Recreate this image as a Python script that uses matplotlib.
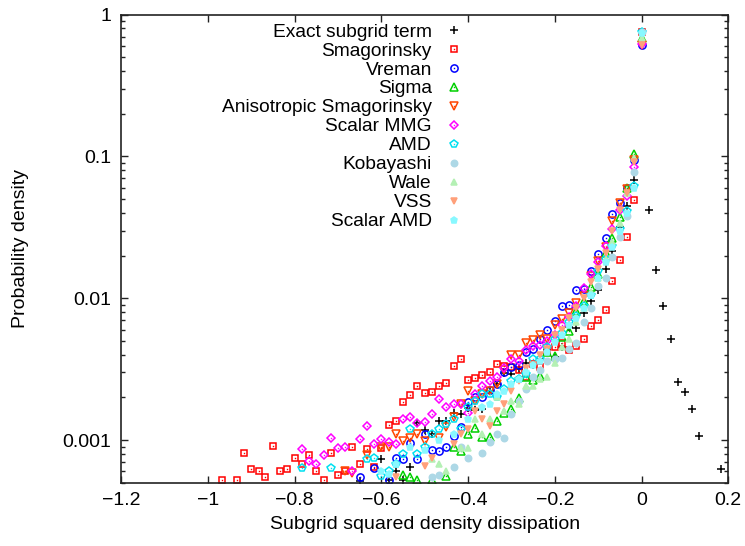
import matplotlib
matplotlib.use('Agg')
import matplotlib.pyplot as plt

plt.rcParams['font.family'] = ['Liberation Sans', 'DejaVu Sans']
plt.rcParams['font.size'] = 14

# PDF of the subgrid squared density dissipation, bin centres (x) and densities (y)
exact_x = [-0.65, -0.6, -0.583, -0.567, -0.55, -0.533, -0.517, -0.5, -0.483, -0.467, -0.45, -0.433,
           -0.417, -0.4, -0.383, -0.367, -0.35, -0.333, -0.317, -0.3, -0.283, -0.267, -0.25, -0.233,
           -0.217, -0.2, -0.183, -0.167, -0.15, -0.133, -0.117, -0.1, -0.083, -0.067, -0.05, -0.033,
           -0.017, 0.0, 0.017, 0.033, 0.05, 0.067, 0.083, 0.1, 0.117, 0.133, 0.183]
exact_y = [0.00051, 0.00073, 0.00052, 0.0006, 0.00052, 0.00065, 0.00131, 0.00118, 0.0011, 0.00136,
           0.00136, 0.00156, 0.00152, 0.00168, 0.00163, 0.00166, 0.0022, 0.0025, 0.00296, 0.0029,
           0.00316, 0.0035, 0.0034, 0.00374, 0.0043, 0.00388, 0.00452, 0.0063, 0.0062, 0.0079,
           0.0095, 0.0114, 0.0161, 0.0216, 0.032, 0.045, 0.068, 0.64, 0.042, 0.0159, 0.0088,
           0.0052, 0.00256, 0.00218, 0.00166, 0.00106, 0.00062]

smag_x = [-0.967, -0.933, -0.917, -0.9, -0.883, -0.867, -0.85, -0.833, -0.817, -0.8, -0.783, -0.767,
          -0.75, -0.733, -0.717, -0.7, -0.683, -0.667, -0.65, -0.633, -0.617, -0.6, -0.583, -0.567,
          -0.55, -0.533, -0.517, -0.5, -0.483, -0.467, -0.45, -0.433, -0.417, -0.4, -0.383, -0.367,
          -0.35, -0.333, -0.317, -0.3, -0.283, -0.267, -0.25, -0.233, -0.217, -0.2, -0.183, -0.167,
          -0.15, -0.133, -0.117, -0.1, -0.083, -0.067, -0.05, -0.033, -0.017, 0.0]
smag_y = [0.00052, 0.00052, 0.00081, 0.00062, 0.0006, 0.00055, 0.00091, 0.0006, 0.00062, 0.00075,
          0.00068, 0.00078, 0.0006, 0.00052, 0.00081, 0.00057, 0.0006, 0.00089, 0.00068, 0.00086,
          0.00065, 0.00088, 0.00127, 0.00136, 0.00185, 0.00207, 0.00242, 0.00215, 0.00219, 0.0024,
          0.00254, 0.00335, 0.00372, 0.00265, 0.00273, 0.00286, 0.003, 0.00346, 0.00333, 0.0033,
          0.0031, 0.0028, 0.00344, 0.0033, 0.0042, 0.0045, 0.00485, 0.0043, 0.00464, 0.00518,
          0.00637, 0.00706, 0.0082, 0.0133, 0.0187, 0.0272, 0.0497, 0.76]

vreman_x = [-0.65, -0.617, -0.583, -0.567, -0.55, -0.533, -0.517, -0.5, -0.483, -0.467, -0.45,
            -0.433, -0.417, -0.4, -0.383, -0.367, -0.35, -0.333, -0.317, -0.3, -0.283, -0.267,
            -0.25, -0.233, -0.217, -0.2, -0.183, -0.167, -0.15, -0.133, -0.117, -0.1, -0.083,
            -0.067, -0.05, -0.033, -0.017, 0.0]
vreman_y = [0.00055, 0.00063, 0.00052, 0.00075, 0.00073, 0.00096, 0.00073, 0.0011, 0.00085, 0.00084,
            0.0009, 0.00107, 0.00123, 0.00186, 0.002, 0.002, 0.00226, 0.0025, 0.003, 0.0033,
            0.0034, 0.0042, 0.0044, 0.0052, 0.006, 0.0069, 0.0088, 0.0089, 0.0115, 0.0116,
            0.0155, 0.0205, 0.0265, 0.039, 0.047, 0.06, 0.095, 0.61]

sigma_x = [-0.55, -0.533, -0.517, -0.483, -0.45, -0.433, -0.417, -0.4, -0.383, -0.367, -0.35,
           -0.333, -0.317, -0.3, -0.283, -0.267, -0.25, -0.233, -0.217, -0.2, -0.183, -0.167,
           -0.15, -0.133, -0.117, -0.1, -0.083, -0.067, -0.05, -0.033, -0.017, 0.0]
sigma_y = [0.00057, 0.00055, 0.00052, 0.00052, 0.00056, 0.0009, 0.00083, 0.0011, 0.00121, 0.00105,
           0.00105, 0.00137, 0.00156, 0.00165, 0.00197, 0.0028, 0.00265, 0.00285, 0.0042, 0.0039,
           0.0053, 0.0059, 0.0081, 0.0095, 0.0121, 0.0149, 0.021, 0.0268, 0.0376, 0.06, 0.104, 0.69]

aniso_x = [-0.683, -0.667, -0.633, -0.6, -0.583, -0.567, -0.55, -0.533, -0.517, -0.5, -0.467,
           -0.45, -0.433, -0.417, -0.4, -0.383, -0.367, -0.35, -0.333, -0.317, -0.3, -0.283,
           -0.267, -0.25, -0.233, -0.217, -0.2, -0.183, -0.167, -0.15, -0.133, -0.117, -0.1,
           -0.083, -0.067, -0.05, -0.033, -0.017, 0.0]
aniso_y = [0.0006, 0.00059, 0.00078, 0.0009, 0.0009, 0.0011, 0.00098, 0.00103, 0.0011, 0.00098,
           0.00103, 0.00124, 0.00145, 0.0018, 0.00222, 0.0019, 0.0021, 0.0022, 0.0025, 0.0031,
           0.004, 0.004, 0.0048, 0.0051, 0.0055, 0.0052, 0.0065, 0.0071, 0.0079, 0.0092,
           0.0103, 0.0143, 0.0182, 0.0229, 0.0348, 0.047, 0.059, 0.095, 0.61]

mmg_x = [-0.783, -0.767, -0.75, -0.733, -0.717, -0.7, -0.683, -0.667, -0.65, -0.633, -0.617, -0.6,
         -0.583, -0.567, -0.55, -0.533, -0.517, -0.5, -0.483, -0.467, -0.45, -0.433, -0.417, -0.4,
         -0.383, -0.367, -0.35, -0.333, -0.317, -0.3, -0.283, -0.267, -0.25, -0.233, -0.217, -0.2,
         -0.183, -0.167, -0.15, -0.133, -0.117, -0.1, -0.083, -0.067, -0.05, -0.033, -0.017, 0.0]
mmg_y = [0.00086, 0.00071, 0.00068, 0.00078, 0.00104, 0.00088, 0.0009, 0.0006, 0.00101, 0.00126,
         0.00094, 0.00101, 0.00097, 0.00094, 0.0014, 0.00145, 0.00131, 0.00135, 0.00152, 0.00194,
         0.0017, 0.00179, 0.00179, 0.00154, 0.0021, 0.0024, 0.0026, 0.0028, 0.0032, 0.0037,
         0.0036, 0.0043, 0.0046, 0.0047, 0.005, 0.0055, 0.0065, 0.0074, 0.0088, 0.0118,
         0.0148, 0.018, 0.0233, 0.031, 0.042, 0.053, 0.084, 0.62]

amd_x = [-0.783, -0.717, -0.633, -0.617, -0.6, -0.583, -0.567, -0.55, -0.533, -0.517, -0.5, -0.483,
         -0.467, -0.45, -0.433, -0.417, -0.4, -0.383, -0.367, -0.35, -0.333, -0.317, -0.3, -0.283,
         -0.267, -0.25, -0.233, -0.217, -0.2, -0.183, -0.167, -0.15, -0.133, -0.117, -0.1, -0.083,
         -0.067, -0.05, -0.033, -0.017, 0.0]
amd_y = [0.00063, 0.00063, 0.00074, 0.00075, 0.00056, 0.0006, 0.00068, 0.0008, 0.0012, 0.0008,
         0.0009, 0.0011, 0.0012, 0.0013, 0.0014, 0.0012, 0.0017, 0.0019, 0.0021, 0.0021, 0.002,
         0.0023, 0.0026, 0.0027, 0.0029, 0.0037, 0.0037, 0.0045, 0.0052, 0.0057, 0.0068, 0.0075,
         0.0088, 0.0105, 0.0155, 0.0188, 0.0233, 0.031, 0.041, 0.062, 0.75]

koba_x = [-0.483, -0.467, -0.433, -0.417, -0.4, -0.367, -0.35, -0.333, -0.317, -0.3, -0.283, -0.267,
          -0.25, -0.233, -0.217, -0.2, -0.183, -0.167, -0.15, -0.133, -0.117, -0.1, -0.083, -0.067,
          -0.05, -0.033, -0.017, 0.0]
koba_y = [0.00055, 0.00057, 0.00065, 0.00089, 0.00075, 0.00081, 0.00097, 0.0011, 0.00104, 0.00153,
          0.0019, 0.0023, 0.0028, 0.0031, 0.0036, 0.0037, 0.0038, 0.0044, 0.0048, 0.0068, 0.0085,
          0.0123, 0.0138, 0.0197, 0.027, 0.038, 0.078, 0.75]

wale_x = [-0.483, -0.467, -0.45, -0.417, -0.4, -0.383, -0.367, -0.35, -0.333, -0.317, -0.3, -0.283,
          -0.267, -0.25, -0.233, -0.217, -0.2, -0.183, -0.167, -0.15, -0.133, -0.117, -0.1, -0.083,
          -0.067, -0.05, -0.033, -0.017, 0.0]
wale_y = [0.00073, 0.00068, 0.0006, 0.00088, 0.00088, 0.0014, 0.0011, 0.0014, 0.002, 0.0016,
          0.0019, 0.0018, 0.0024, 0.0024, 0.0027, 0.0028, 0.0035, 0.0045, 0.0052, 0.0068,
          0.0085, 0.011, 0.014, 0.019, 0.025, 0.034, 0.055, 0.098, 0.68]

vss_x = [-0.567, -0.5, -0.483, -0.433, -0.417, -0.4, -0.383, -0.367, -0.35, -0.333, -0.317, -0.3,
         -0.283, -0.267, -0.25, -0.233, -0.217, -0.2, -0.183, -0.167, -0.15, -0.133, -0.117, -0.1,
         -0.083, -0.067, -0.05, -0.033, -0.017, 0.0]
vss_y = [0.00055, 0.00066, 0.00075, 0.00094, 0.0011, 0.0012, 0.0016, 0.0014, 0.00125, 0.0016,
         0.0018, 0.0022, 0.0026, 0.0032, 0.0034, 0.004, 0.0044, 0.0055, 0.006, 0.0072,
         0.0085, 0.01, 0.013, 0.016, 0.021, 0.03, 0.042, 0.055, 0.092, 0.61]

samd_x = [-0.6, -0.583, -0.567, -0.533, -0.5, -0.467, -0.433, -0.4, -0.367, -0.35, -0.333, -0.317,
          -0.3, -0.283, -0.267, -0.25, -0.233, -0.217, -0.2, -0.183, -0.167, -0.15, -0.133, -0.117,
          -0.1, -0.083, -0.067, -0.05, -0.033, -0.017, 0.0]
samd_y = [0.0006, 0.00058, 0.00068, 0.0009, 0.00085, 0.001, 0.0011, 0.0014, 0.0017, 0.0018,
          0.0021, 0.0022, 0.0025, 0.0027, 0.003, 0.0034, 0.0036, 0.0042, 0.0049, 0.0055,
          0.0065, 0.0073, 0.0085, 0.0105, 0.014, 0.018, 0.023, 0.03, 0.04, 0.06, 0.74]

labels = ['Exact subgrid term', 'Smagorinsky', 'Vreman', 'Sigma', 'Anisotropic Smagorinsky',
          'Scalar MMG', 'AMD', 'Kobayashi', 'Wale', 'VSS', 'Scalar AMD']
xs = [exact_x, smag_x, vreman_x, sigma_x, aniso_x, mmg_x, amd_x, koba_x, wale_x, vss_x, samd_x]
ys = [exact_y, smag_y, vreman_y, sigma_y, aniso_y, mmg_y, amd_y, koba_y, wale_y, vss_y, samd_y]

# marker, colour, filled, size
styles = [('+', 'black', True, 6.0),
          ('s', '#ff0000', False, 5.0),
          ('o', '#0000ff', False, 5.2),
          ('^', '#00d000', False, 6.0),
          ('v', '#ff4500', False, 6.0),
          ('D', '#ff00ff', False, 3.8),
          ('p', '#00e0f0', False, 6.0),
          ('o', '#add8e6', True, 4.6),
          ('^', '#b4f0b4', True, 5.0),
          ('v', '#ffa07a', True, 5.0),
          ('p', '#88f8ff', True, 5.0)]


def draw(ax, x, y, style, **kw):
    m, c, filled, ms = style
    if filled:
        ax.plot(x, y, ls='none', marker=m, ms=ms, color=c, mew=1.1, **kw)
    else:
        ax.plot(x, y, ls='none', marker=m, ms=ms, mfc='none', mec=c, mew=1.1, **kw)
        ax.plot(x, y, ls='none', marker='s', ms=1.0, color=c, mew=0, **kw)


fig = plt.figure(figsize=(7.45, 5.46), dpi=100)
ax = fig.add_axes([121 / 745, 1 - 482.7 / 546, 607.3 / 745, 468 / 546])

for x, y, st in zip(xs, ys, styles):
    draw(ax, x, y, st)

ax.set_yscale('log')
ax.set_xlim(-1.2, 0.2)
ax.set_ylim(0.0005, 1.0)
ax.set_xticks([-1.2, -1.0, -0.8, -0.6, -0.4, -0.2, 0.0, 0.2])
ax.set_xticklabels(['\u22121.2', '\u22121', '\u22120.8', '\u22120.6', '\u22120.4', '\u22120.2', '0', '0.2'])
ax.set_yticks([0.001, 0.01, 0.1, 1])
ax.set_yticklabels(['0.001', '0.01', '0.1', '1'])
ax.tick_params(which='both', direction='in', top=True, right=True, color='#222222')
ax.tick_params(which='major', length=5, width=1.0, pad=7)
ax.tick_params(which='minor', length=3, width=1.0)
ax.tick_params(axis='x', which='minor', bottom=False, top=False)
for s in ax.spines.values():
    s.set_linewidth(1.2)
    s.set_color('#222222')

ax.set_xlabel('Subgrid squared density dissipation', labelpad=5)
ax.set_ylabel('Probability density', labelpad=24)

# gnuplot style key: right aligned text with the marker after it
for i, (lab, st) in enumerate(zip(labels, styles)):
    base = 1 - (36.7 + i * 18.93 - 14.7) / 468
    ax.text(0.512, base, lab, ha='right', va='baseline', fontsize=13.8, transform=ax.transAxes)
    draw(ax, [0.548], [base + 6.5 / 468], st, transform=ax.transAxes, clip_on=False)

fig.savefig('out.png', dpi=100)
